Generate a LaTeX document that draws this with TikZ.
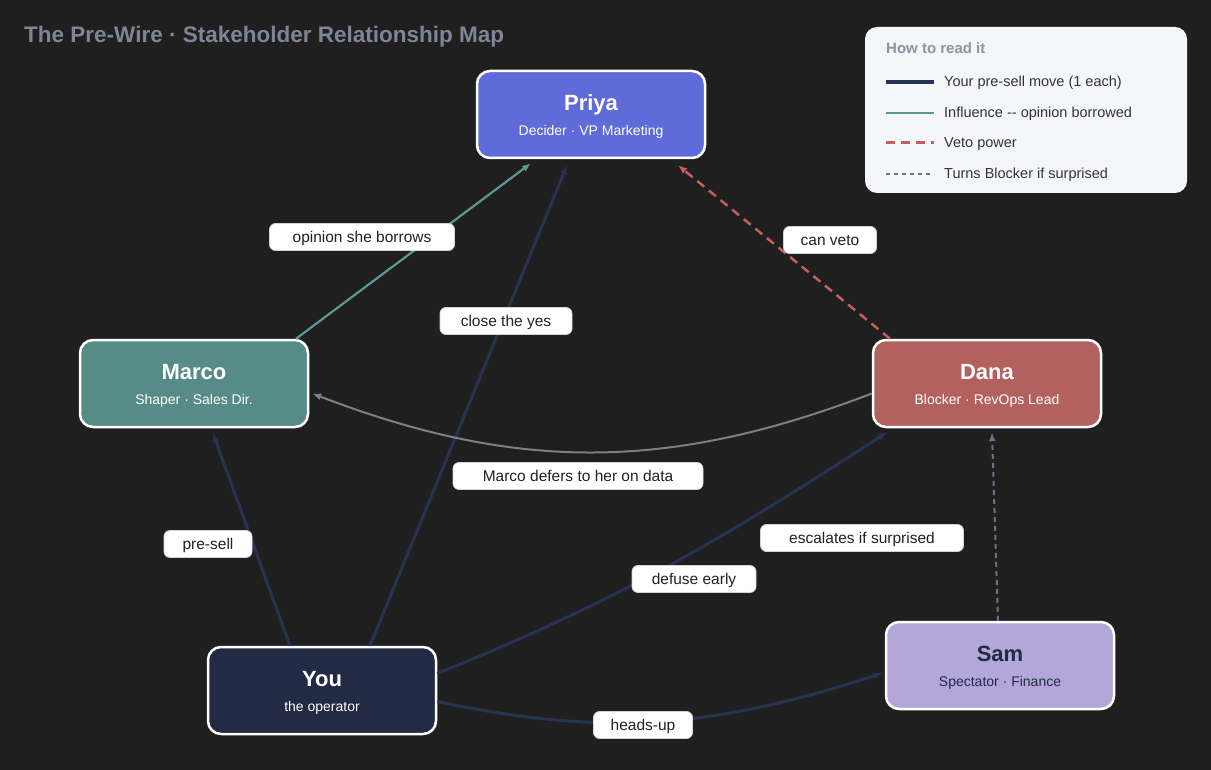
\documentclass[tikz,border=0pt]{standalone}
\usepackage{fontspec}
\setmainfont{Liberation Sans}
\usetikzlibrary{arrows.meta}
\definecolor{bg}{HTML}{1F1F1F}
\definecolor{titlegrey}{HTML}{7D8597}
\definecolor{priyablue}{HTML}{5F6BD8}
\definecolor{marcoteal}{HTML}{568C85}
\definecolor{danared}{HTML}{B3615E}
\definecolor{younavy}{HTML}{222A44}
\definecolor{samlilac}{HTML}{B3A6D9}
\definecolor{moveblue}{HTML}{283252}
\definecolor{swayteal}{HTML}{5B9990}
\definecolor{vetored}{HTML}{C4605C}
\definecolor{defergrey}{HTML}{7A7F8C}
\definecolor{turngrey}{HTML}{6D7282}
\definecolor{tagedge}{HTML}{D0D3DA}
\definecolor{tagtext}{HTML}{222222}
\definecolor{legendbg}{HTML}{F5F6FA}
\definecolor{legendhead}{HTML}{8D93A3}
\definecolor{legendtext}{HTML}{333333}
\newcommand{\stake}[2]{\rule{0pt}{20pt}{\fontsize{22}{25}\selectfont\bfseries #1}\\#2}

\begin{document}
\begin{tikzpicture}[x=1pt,y=-1pt,
    person/.style={draw=white,line width=2.5pt,rounded corners=13pt,
      minimum width=228pt,minimum height=87pt,align=center,text=white,
      font=\fontsize{14}{25}\selectfont},
    tag/.style={draw=tagedge,fill=white,line width=0.8pt,rounded corners=6pt,
      minimum height=27pt,inner xsep=0pt,text=tagtext,
      text height=12pt,text depth=0.5pt,font=\fontsize{15.5}{18}\selectfont},
    arrowtip/.style={-{Latex[length=9pt,width=7pt]}},
    movearrow/.style={arrowtip,draw=moveblue,line width=3pt},
    swayarrow/.style={arrowtip,draw=swayteal,line width=2.2pt},
    vetoarrow/.style={arrowtip,draw=vetored,line width=2.5pt,dash pattern=on 9pt off 6pt},
    deferarrow/.style={arrowtip,draw=defergrey,line width=2pt},
    turnarrow/.style={arrowtip,draw=turngrey,line width=2pt,dash pattern=on 5pt off 4pt},
    keytext/.style={anchor=base west,inner sep=0pt,text=legendtext,font=\fontsize{14.5}{17}\selectfont}]
  \fill[bg] (0,0) rectangle (1211,770);
  \useasboundingbox (0,0) rectangle (1211,770);

  % title
  \node[anchor=base west,inner sep=0pt,text=titlegrey,font=\fontsize{22.5}{26}\selectfont\bfseries]
    (title) at (24,43) {The Pre-Wire · Stakeholder Relationship Map};

  % the five people
  \node[person,fill=priyablue] (priya) at (591,114.5) {\stake{Priya}{Decider · VP Marketing}};
  \node[person,fill=marcoteal] (marco) at (194,383.5) {\stake{Marco}{Shaper · Sales Dir.}};
  \node[person,fill=danared] (dana) at (987,383.5) {\stake{Dana}{Blocker · RevOps Lead}};
  \node[person,fill=younavy] (you) at (322,690.5) {\stake{You}{the operator}};
  \node[person,fill=samlilac,text=younavy] (sam) at (1000,665.5) {\stake{Sam}{Spectator · Finance}};

  % relationships
  \draw[swayarrow] ([xshift=102pt]marco.north) -- ([xshift=-60pt,yshift=-4pt]priya.south);
  \draw[movearrow] ([xshift=48pt]you.north) -- ([xshift=-24pt,yshift=-6pt]priya.south);
  \draw[vetoarrow] ([xshift=-97pt]dana.north) -- ([xshift=87pt,yshift=-6pt]priya.south);
  \draw[deferarrow] ([yshift=-10pt]dana.west) to[bend left=21] ([xshift=3pt,yshift=-10pt]marco.east);
  \draw[movearrow] ([xshift=-32pt]you.north) -- ([xshift=19pt,yshift=-5pt]marco.south);
  \draw[movearrow] ([yshift=17pt]you.east) to[out=22,in=213] ([xshift=-100pt,yshift=-4pt]dana.south);
  \draw[turnarrow] ([xshift=-2pt]sam.north) -- ([xshift=5pt,yshift=-4pt]dana.south);
  \draw[movearrow] ([yshift=-11pt]you.east) to[out=-12,in=198] ([xshift=-2pt,yshift=-7.5pt]sam.west);

  % edge labels
  \node[tag,minimum width=185pt] (opinion) at (362,237) {opinion she borrows};
  \node[tag,minimum width=132pt] (closeyes) at (506,321) {close the yes};
  \node[tag,minimum width=93pt] (canveto) at (830,240) {can veto};
  \node[tag,minimum width=250pt] (defers) at (578,476) {Marco defers to her on data};
  \node[tag,minimum width=88pt] (presell) at (208,544) {pre-sell};
  \node[tag,minimum width=124pt] (defuse) at (694,579) {defuse early};
  \node[tag,minimum width=203pt] (escalates) at (862,538) {escalates if surprised};
  \node[tag,minimum width=99pt] (headsup) at (643,725) {heads-up};

  % legend
  \node[fill=legendbg,rounded corners=12pt,minimum width=322pt,minimum height=166pt] (legend) at (1026,110) {};
  \node[anchor=base west,inner sep=0pt,text=legendhead,font=\fontsize{15}{18}\selectfont\bfseries]
    (keyhead) at (886,54) {How to read it};
  \draw[moveblue,line width=4pt] (886,82) -- (934,82);
  \node[keytext] (keymove) at (944,87) {Your pre-sell move (1 each)};
  \draw[swayteal,line width=2.5pt] (886,113) -- (934,113);
  \node[keytext] (keysway) at (944,118) {Influence -{}- opinion borrowed};
  \draw[vetored,line width=3pt,dash pattern=on 9pt off 6pt] (886,143) -- (934,143);
  \node[keytext] (keyveto) at (944,148) {Veto power};
  \draw[turngrey,line width=1.5pt,dash pattern=on 4pt off 4pt] (886,174) -- (934,174);
  \node[keytext] (keyturn) at (944,179) {Turns Blocker if surprised};
\end{tikzpicture}
\end{document}
